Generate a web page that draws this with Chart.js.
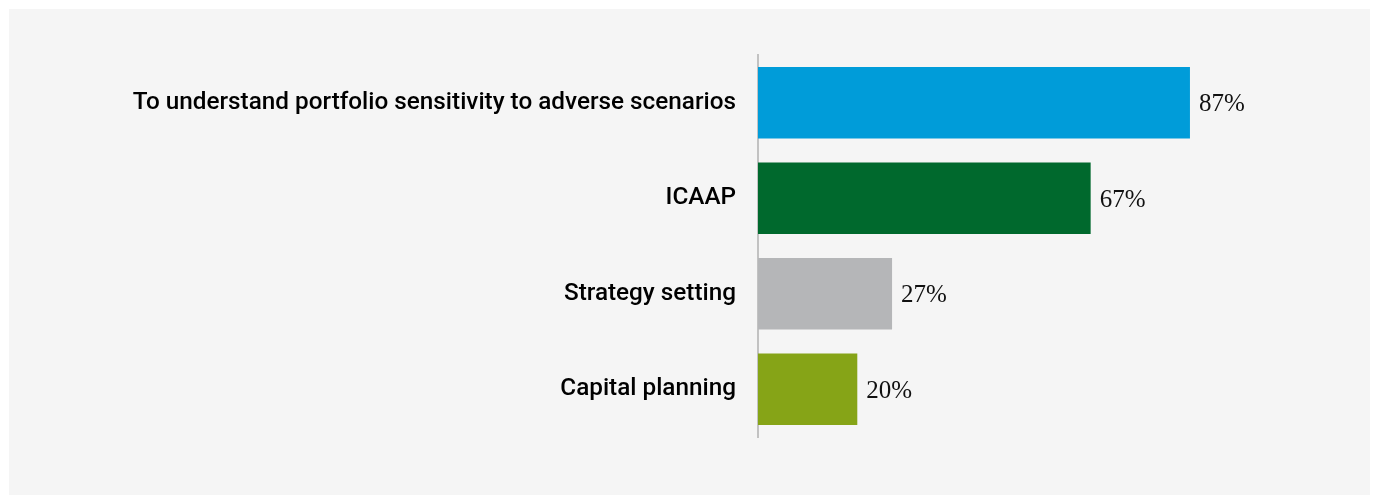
<!DOCTYPE html>
<html>
<head>
<meta charset="utf-8">
<script src="https://cdn.jsdelivr.net/npm/chart.js@4"></script>
<style>
  html, body { margin: 0; padding: 0; background: #ffffff; }
  #panel { position: absolute; left: 9px; top: 9px; width: 1361px; height: 486px; background: #f5f5f5; }
  #panel canvas { display: block; }
</style>
</head>
<body>
<div id="panel"><canvas id="chart" width="1361" height="486"></canvas></div>
<script>
// Reasons for stress testing, share of respondents (%)
const categories = [
  'To understand portfolio sensitivity to adverse scenarios',
  'ICAAP',
  'Strategy setting',
  'Capital planning'
];
const values = [87, 67, 27, 20];
const barColors = ['#009cd9', '#00692d', '#b5b6b8', '#86a417'];

// Writes "NN%" just past the end of each bar
const valueLabels = {
  id: 'valueLabels',
  afterDatasetsDraw(chart) {
    const ctx = chart.ctx;
    const meta = chart.getDatasetMeta(0);
    ctx.save();
    ctx.font = '25px "Liberation Serif", "DejaVu Serif", serif';
    ctx.fillStyle = '#111111';
    ctx.textAlign = 'left';
    ctx.textBaseline = 'middle';
    meta.data.forEach((bar, i) => {
      ctx.fillText(values[i] + '%', bar.x + 9, bar.y + 2);
    });
    ctx.restore();
  }
};

new Chart(document.getElementById('chart'), {
  type: 'bar',
  data: {
    labels: categories,
    datasets: [{
      data: values,
      backgroundColor: barColors,
      borderWidth: 0,
      categoryPercentage: 1.0,
      barPercentage: 0.75
    }]
  },
  options: {
    indexAxis: 'y',
    responsive: false,
    animation: false,
    layout: { padding: { top: 46, bottom: 58, left: 0, right: 115.5 } },
    plugins: { legend: { display: false }, tooltip: { enabled: false } },
    scales: {
      x: { display: false, min: 0, max: 100 },
      y: {
        grid: { display: false, drawTicks: false },
        border: { display: true, color: '#c2c2c2', width: 2 },
        ticks: {
          padding: 22,
          color: '#000000',
          font: { family: 'Roboto, "Liberation Sans", Arial, sans-serif', size: 24.3, weight: '500' }
        },
        afterFit(scale) { scale.width = 749; }
      }
    }
  },
  plugins: [valueLabels]
});
</script>
</body>
</html>
